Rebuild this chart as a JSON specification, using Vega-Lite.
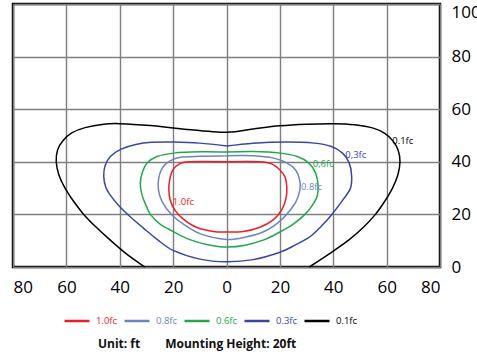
{
  "$schema": "https://vega.github.io/schema/vega-lite/v6.json",
  "width": 427,
  "height": 263,
  "autosize": {"type": "none"},
  "padding": {"left": 13, "top": 4, "right": 37, "bottom": 91},
  "background": "white",
  "config": {
    "view": {"stroke": "black", "strokeWidth": 2.5},
    "font": "Open Sans"
  },
  "title": {
    "text": "Unit: ft\u00a0\u00a0\u00a0\u00a0\u00a0\u00a0\u00a0\u00a0Mounting Height: 20ft",
    "orient": "bottom",
    "anchor": "start",
    "frame": "group",
    "dx": 85,
    "offset": 13,
    "fontSize": 12,
    "fontWeight": "bold",
    "font": "Open Sans",
    "color": "#111"
  },
  "datasets": {
    "contours": [
      {"c": "0.1fc", "o": 1, "x": -30.6, "y": 0},
      {"c": "0.1fc", "o": 2, "x": -37.5, "y": 5},
      {"c": "0.1fc", "o": 3, "x": -43.75, "y": 10.4},
      {"c": "0.1fc", "o": 4, "x": -49, "y": 15.3},
      {"c": "0.1fc", "o": 5, "x": -53.5, "y": 20},
      {"c": "0.1fc", "o": 6, "x": -57.3, "y": 25},
      {"c": "0.1fc", "o": 7, "x": -60.5, "y": 30},
      {"c": "0.1fc", "o": 8, "x": -62.8, "y": 35},
      {"c": "0.1fc", "o": 9, "x": -63.8, "y": 40},
      {"c": "0.1fc", "o": 10, "x": -63.3, "y": 44.5},
      {"c": "0.1fc", "o": 11, "x": -61.3, "y": 48},
      {"c": "0.1fc", "o": 12, "x": -58, "y": 51},
      {"c": "0.1fc", "o": 13, "x": -53, "y": 53},
      {"c": "0.1fc", "o": 14, "x": -46, "y": 54.3},
      {"c": "0.1fc", "o": 15, "x": -40, "y": 54.5},
      {"c": "0.1fc", "o": 16, "x": -28.5, "y": 53.8},
      {"c": "0.1fc", "o": 17, "x": -17.3, "y": 52.6},
      {"c": "0.1fc", "o": 18, "x": 0, "y": 51.2},
      {"c": "0.1fc", "o": 19, "x": 10, "y": 52.5},
      {"c": "0.1fc", "o": 20, "x": 20, "y": 53.7},
      {"c": "0.1fc", "o": 21, "x": 30, "y": 54.3},
      {"c": "0.1fc", "o": 22, "x": 40, "y": 54.5},
      {"c": "0.1fc", "o": 23, "x": 48, "y": 54.1},
      {"c": "0.1fc", "o": 24, "x": 55, "y": 52.8},
      {"c": "0.1fc", "o": 25, "x": 59.3, "y": 50.8},
      {"c": "0.1fc", "o": 26, "x": 62.3, "y": 48},
      {"c": "0.1fc", "o": 27, "x": 64.3, "y": 44.5},
      {"c": "0.1fc", "o": 28, "x": 65, "y": 40},
      {"c": "0.1fc", "o": 29, "x": 64.2, "y": 35},
      {"c": "0.1fc", "o": 30, "x": 62.2, "y": 30},
      {"c": "0.1fc", "o": 31, "x": 59.3, "y": 25},
      {"c": "0.1fc", "o": 32, "x": 55.8, "y": 20},
      {"c": "0.1fc", "o": 33, "x": 51.5, "y": 15.3},
      {"c": "0.1fc", "o": 34, "x": 46, "y": 10.4},
      {"c": "0.1fc", "o": 35, "x": 38.5, "y": 5},
      {"c": "0.1fc", "o": 36, "x": 31, "y": 0},

      {"c": "0.3fc", "o": 1, "x": 0, "y": 46},
      {"c": "0.3fc", "o": 2, "x": -10, "y": 47.1},
      {"c": "0.3fc", "o": 3, "x": -20, "y": 47.5},
      {"c": "0.3fc", "o": 4, "x": -28, "y": 47.4},
      {"c": "0.3fc", "o": 5, "x": -34, "y": 46.6},
      {"c": "0.3fc", "o": 6, "x": -39.5, "y": 44.8},
      {"c": "0.3fc", "o": 7, "x": -43.5, "y": 42},
      {"c": "0.3fc", "o": 8, "x": -45.5, "y": 38.5},
      {"c": "0.3fc", "o": 9, "x": -46, "y": 34.5},
      {"c": "0.3fc", "o": 10, "x": -45.3, "y": 30.5},
      {"c": "0.3fc", "o": 11, "x": -43.75, "y": 27.6},
      {"c": "0.3fc", "o": 12, "x": -40.5, "y": 23.5},
      {"c": "0.3fc", "o": 13, "x": -36.5, "y": 19.5},
      {"c": "0.3fc", "o": 14, "x": -31.25, "y": 14.9},
      {"c": "0.3fc", "o": 15, "x": -26, "y": 10.5},
      {"c": "0.3fc", "o": 16, "x": -20, "y": 6.3},
      {"c": "0.3fc", "o": 17, "x": -10, "y": 3},
      {"c": "0.3fc", "o": 18, "x": 0, "y": 2},
      {"c": "0.3fc", "o": 19, "x": 10, "y": 2.8},
      {"c": "0.3fc", "o": 20, "x": 20, "y": 5.6},
      {"c": "0.3fc", "o": 21, "x": 26, "y": 8.5},
      {"c": "0.3fc", "o": 22, "x": 31.25, "y": 11.5},
      {"c": "0.3fc", "o": 23, "x": 35.5, "y": 15.5},
      {"c": "0.3fc", "o": 24, "x": 39.5, "y": 20},
      {"c": "0.3fc", "o": 25, "x": 43.75, "y": 25.7},
      {"c": "0.3fc", "o": 26, "x": 46.4, "y": 29.8},
      {"c": "0.3fc", "o": 27, "x": 46.9, "y": 34.5},
      {"c": "0.3fc", "o": 28, "x": 46, "y": 39.5},
      {"c": "0.3fc", "o": 29, "x": 43.5, "y": 43.3},
      {"c": "0.3fc", "o": 30, "x": 39.1, "y": 45.9},
      {"c": "0.3fc", "o": 31, "x": 32.8, "y": 47.1},
      {"c": "0.3fc", "o": 32, "x": 22.7, "y": 47.5},
      {"c": "0.3fc", "o": 33, "x": 10.1, "y": 47.1},
      {"c": "0.3fc", "o": 34, "x": 0, "y": 46},

      {"c": "0.6fc", "o": 1, "x": 0, "y": 43.7},
      {"c": "0.6fc", "o": 2, "x": -10, "y": 43.8},
      {"c": "0.6fc", "o": 3, "x": -19.75, "y": 43.3},
      {"c": "0.6fc", "o": 4, "x": -26, "y": 42},
      {"c": "0.6fc", "o": 5, "x": -29.75, "y": 39.5},
      {"c": "0.6fc", "o": 6, "x": -31.6, "y": 35.7},
      {"c": "0.6fc", "o": 7, "x": -32.3, "y": 31.8},
      {"c": "0.6fc", "o": 8, "x": -31.8, "y": 28},
      {"c": "0.6fc", "o": 9, "x": -30.5, "y": 24.2},
      {"c": "0.6fc", "o": 10, "x": -28.5, "y": 20},
      {"c": "0.6fc", "o": 11, "x": -25, "y": 16.4},
      {"c": "0.6fc", "o": 12, "x": -20, "y": 13.5},
      {"c": "0.6fc", "o": 13, "x": -14, "y": 10.5},
      {"c": "0.6fc", "o": 14, "x": -7, "y": 8.5},
      {"c": "0.6fc", "o": 15, "x": 0, "y": 7.6},
      {"c": "0.6fc", "o": 16, "x": 7, "y": 8.3},
      {"c": "0.6fc", "o": 17, "x": 14, "y": 10.3},
      {"c": "0.6fc", "o": 18, "x": 20, "y": 13.3},
      {"c": "0.6fc", "o": 19, "x": 25, "y": 16.3},
      {"c": "0.6fc", "o": 20, "x": 29.4, "y": 20},
      {"c": "0.6fc", "o": 21, "x": 32.2, "y": 23.5},
      {"c": "0.6fc", "o": 22, "x": 34, "y": 27},
      {"c": "0.6fc", "o": 23, "x": 34.3, "y": 31.2},
      {"c": "0.6fc", "o": 24, "x": 33.4, "y": 35.7},
      {"c": "0.6fc", "o": 25, "x": 30.9, "y": 39.5},
      {"c": "0.6fc", "o": 26, "x": 26.5, "y": 42},
      {"c": "0.6fc", "o": 27, "x": 20.2, "y": 43.3},
      {"c": "0.6fc", "o": 28, "x": 10, "y": 43.9},
      {"c": "0.6fc", "o": 29, "x": 0, "y": 43.7},

      {"c": "0.8fc", "o": 1, "x": 0, "y": 42.3},
      {"c": "0.8fc", "o": 2, "x": -9.75, "y": 42.1},
      {"c": "0.8fc", "o": 3, "x": -17.25, "y": 41.7},
      {"c": "0.8fc", "o": 4, "x": -21.6, "y": 40.1},
      {"c": "0.8fc", "o": 5, "x": -24.1, "y": 37.6},
      {"c": "0.8fc", "o": 6, "x": -25.4, "y": 33.8},
      {"c": "0.8fc", "o": 7, "x": -25.5, "y": 29.3},
      {"c": "0.8fc", "o": 8, "x": -24.1, "y": 24.8},
      {"c": "0.8fc", "o": 9, "x": -20.6, "y": 20},
      {"c": "0.8fc", "o": 10, "x": -16, "y": 16.2},
      {"c": "0.8fc", "o": 11, "x": -9.75, "y": 12.6},
      {"c": "0.8fc", "o": 12, "x": 0, "y": 10.5},
      {"c": "0.8fc", "o": 13, "x": 7.6, "y": 11.5},
      {"c": "0.8fc", "o": 14, "x": 13.9, "y": 13.4},
      {"c": "0.8fc", "o": 15, "x": 19, "y": 16.6},
      {"c": "0.8fc", "o": 16, "x": 22.5, "y": 20},
      {"c": "0.8fc", "o": 17, "x": 26, "y": 24.8},
      {"c": "0.8fc", "o": 18, "x": 27.5, "y": 29.3},
      {"c": "0.8fc", "o": 19, "x": 27.4, "y": 33.1},
      {"c": "0.8fc", "o": 20, "x": 25.9, "y": 36.9},
      {"c": "0.8fc", "o": 21, "x": 22.7, "y": 39.5},
      {"c": "0.8fc", "o": 22, "x": 17.7, "y": 41.4},
      {"c": "0.8fc", "o": 23, "x": 10.1, "y": 42.3},
      {"c": "0.8fc", "o": 24, "x": 0, "y": 42.3},

      {"c": "1.0fc", "o": 1, "x": 0, "y": 40},
      {"c": "1.0fc", "o": 2, "x": -13.8, "y": 40},
      {"c": "1.0fc", "o": 3, "x": -17.6, "y": 39.2},
      {"c": "1.0fc", "o": 4, "x": -20.1, "y": 36.9},
      {"c": "1.0fc", "o": 5, "x": -21.3, "y": 33.1},
      {"c": "1.0fc", "o": 6, "x": -21.6, "y": 29.3},
      {"c": "1.0fc", "o": 7, "x": -21.1, "y": 25.5},
      {"c": "1.0fc", "o": 8, "x": -19.4, "y": 21.7},
      {"c": "1.0fc", "o": 9, "x": -16.3, "y": 18.3},
      {"c": "1.0fc", "o": 10, "x": -11.3, "y": 15.1},
      {"c": "1.0fc", "o": 11, "x": -5, "y": 13.5},
      {"c": "1.0fc", "o": 12, "x": 0, "y": 13.3},
      {"c": "1.0fc", "o": 13, "x": 6.3, "y": 13.5},
      {"c": "1.0fc", "o": 14, "x": 12.5, "y": 15.1},
      {"c": "1.0fc", "o": 15, "x": 17.5, "y": 17.9},
      {"c": "1.0fc", "o": 16, "x": 20.7, "y": 21.7},
      {"c": "1.0fc", "o": 17, "x": 22.3, "y": 26.1},
      {"c": "1.0fc", "o": 18, "x": 22.6, "y": 30.5},
      {"c": "1.0fc", "o": 19, "x": 21.9, "y": 34.3},
      {"c": "1.0fc", "o": 20, "x": 20, "y": 36.9},
      {"c": "1.0fc", "o": 21, "x": 16.9, "y": 39.2},
      {"c": "1.0fc", "o": 22, "x": 12.5, "y": 40},
      {"c": "1.0fc", "o": 23, "x": 0, "y": 40}
    ],
    "labels": [
      {"c": "0.1fc", "label": "0.1fc", "x": 62.1, "y": 47.9},
      {"c": "0.3fc", "label": "0,3fc", "x": 44.5, "y": 42.6},
      {"c": "0.6fc", "label": "0,6fc", "x": 32.3, "y": 39},
      {"c": "0.8fc", "label": "0.8fc", "x": 27.9, "y": 30.5},
      {"c": "1.0fc", "label": "1.0fc", "x": -20.1, "y": 24.8}
    ]
  },
  "encoding": {
    "x": {
      "field": "x", "type": "quantitative",
      "scale": {"domain": [-80, 80], "nice": false, "zero": false},
      "axis": {
        "title": null, "values": [-80, -60, -40, -20, 0, 20, 40, 60, 80],
        "labelExpr": "abs(datum.value)",
        "grid": true, "gridColor": "#7f7f7f", "gridWidth": 1.4, "gridOpacity": 1,
        "ticks": false, "domain": false, "labelFlush": true,
        "labelFontSize": 17, "labelFont": "Open Sans", "labelColor": "#000",
        "labelPadding": 12
      }
    },
    "y": {
      "field": "y", "type": "quantitative",
      "scale": {"domain": [0, 100], "nice": false},
      "axis": {
        "orient": "right", "title": null, "values": [0, 20, 40, 60, 80, 100],
        "grid": true, "gridColor": "#7f7f7f", "gridWidth": 1.4, "gridOpacity": 1,
        "ticks": false, "domain": false,
        "labelBaseline": {"condition": {"test": "datum.value == 100", "value": "top"}, "value": "middle"},
        "labelFontSize": 17, "labelFont": "Open Sans", "labelColor": "#000",
        "labelPadding": 11
      }
    }
  },
  "layer": [
    {
      "data": {"name": "contours"},
      "mark": {"type": "line", "interpolate": "cardinal", "strokeWidth": 1.5},
      "encoding": {
        "order": {"field": "o", "type": "quantitative"},
        "color": {
          "field": "c", "type": "nominal",
          "scale": {
            "domain": ["1.0fc", "0.8fc", "0.6fc", "0.3fc", "0.1fc"],
            "range": ["#ee1c25", "#6c84c0", "#22a84a", "#3a47a2", "#000000"]
          },
          "legend": {
            "orient": "none", "legendX": 50, "legendY": 303,
            "direction": "horizontal", "columns": 5, "title": null,
            "symbolType": "stroke", "symbolSize": 625, "symbolStrokeWidth": 2.5,
            "labelFontSize": 9.5, "labelFont": "Open Sans", "labelOffset": 5,
            "columnPadding": 1, "gridAlign": "all", "padding": 0,
            "encode": {"labels": {"update": {"fill": {"scale": "color", "field": "value"}}}}
          }
        }
      }
    },
    {
      "data": {"name": "labels"},
      "mark": {"type": "text", "align": "left", "baseline": "middle", "fontSize": 9.5, "font": "Open Sans"},
      "encoding": {
        "text": {"field": "label"},
        "color": {"field": "c", "type": "nominal"}
      }
    }
  ]
}
